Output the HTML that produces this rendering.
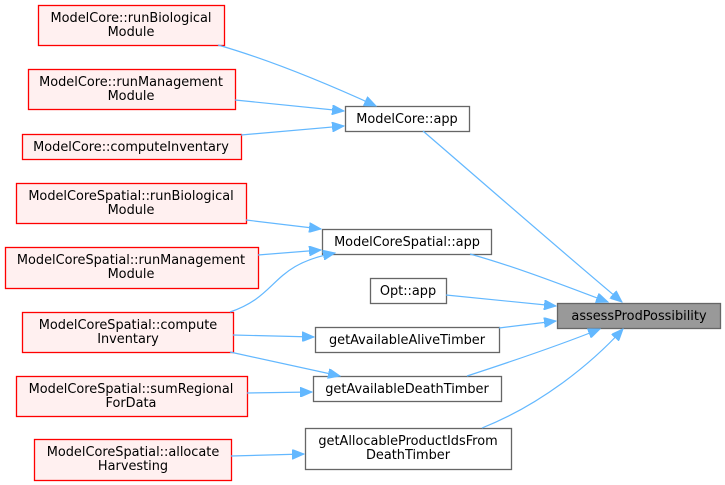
<!DOCTYPE html>
<html><head><meta charset="utf-8"><style>
html,body{margin:0;padding:0;background:#fff;}
svg{display:block}
text{font-family:"DejaVu Sans","Liberation Sans",sans-serif;font-size:12.9px;fill:#000;}
.r{fill:#fff0f0;stroke:#ff0000;stroke-width:1.3}
.w{fill:#fff;stroke:#666;stroke-width:1.3}
.g{fill:#999;stroke:#666;stroke-width:1.3}
.e{fill:none;stroke:#63b8ff;stroke-width:1.2}
</style></head><body>
<svg width="725" height="485" viewBox="0 0 725 485" xmlns="http://www.w3.org/2000/svg">
<defs><marker id="a" markerWidth="13" markerHeight="10" refX="12" refY="5" orient="auto" markerUnits="userSpaceOnUse"><path d="M0,0 L12,5 L0,10 Z" fill="#63b8ff" stroke="#63b8ff"/></marker></defs>
<g text-anchor="middle">
<rect class="r" x="38.5" y="5.5" width="186" height="40"/><text x="131" y="22">ModelCore::runBiological</text><text x="131" y="36">Module</text>
<rect class="r" x="28.5" y="69.5" width="207" height="40"/><text x="131" y="86">ModelCore::runManagement</text><text x="131" y="100">Module</text>
<rect class="r" x="22.5" y="134.5" width="219" height="25"/><text x="131" y="151">ModelCore::computeInventary</text>
<rect class="w" x="345.5" y="106.5" width="124" height="25"/><text x="407" y="123">ModelCore::app</text>
<rect class="r" x="16.5" y="183.5" width="230" height="40"/><text x="131" y="200">ModelCoreSpatial::runBiological</text><text x="131" y="214">Module</text>
<rect class="w" x="322.5" y="229.5" width="169" height="25"/><text x="407" y="246">ModelCoreSpatial::app</text>
<rect class="r" x="5.5" y="247.5" width="253" height="41"/><text x="131" y="264">ModelCoreSpatial::runManagement</text><text x="131" y="278">Module</text>
<rect class="w" x="370.5" y="278.5" width="76" height="25"/><text x="408" y="295">Opt::app</text>
<rect class="g" x="557.5" y="303.5" width="163" height="25"/><text x="639" y="320">assessProdPossibility</text>
<rect class="r" x="22.5" y="312.5" width="211" height="40"/><text x="128" y="329">ModelCoreSpatial::compute</text><text x="128" y="343">Inventary</text>
<rect class="w" x="315.5" y="327.5" width="184" height="25"/><text x="407" y="344">getAvailableAliveTimber</text>
<rect class="r" x="16.5" y="376.5" width="231" height="40"/><text x="131" y="393">ModelCoreSpatial::sumRegional</text><text x="131" y="407">ForData</text>
<rect class="w" x="313.5" y="376.5" width="188" height="25"/><text x="407" y="393">getAvailableDeathTimber</text>
<rect class="w" x="305.5" y="428.5" width="206" height="41"/><text x="408" y="445">getAllocableProductIdsFrom</text><text x="408" y="459">DeathTimber</text>
<rect class="r" x="34.5" y="439.5" width="197" height="41"/><text x="133" y="456">ModelCoreSpatial::allocate</text><text x="133" y="470">Harvesting</text>
</g>
<g class="e">
<path d="M218,45 C270,60 330,85 376,106" marker-end="url(#a)"/>
<path d="M235,100 L344,111" marker-end="url(#a)"/>
<path d="M241,135 L344,126" marker-end="url(#a)"/>
<path d="M423,131 C480,180 560,250 622,302" marker-end="url(#a)"/>
<path d="M246,220 L321,229" marker-end="url(#a)"/>
<path d="M258,255 L321,250" marker-end="url(#a)"/>
<path d="M230,312 C280,295 270,265 335,253" marker-end="url(#a)"/>
<path d="M470,254 C520,268 570,288 608,302" marker-end="url(#a)"/>
<path d="M446,295 L556,306" marker-end="url(#a)"/>
<path d="M499,328 L556,321" marker-end="url(#a)"/>
<path d="M467,376 C510,362 560,345 600,329" marker-end="url(#a)"/>
<path d="M482,428 C540,405 590,365 623,329" marker-end="url(#a)"/>
<path d="M233,335 L314,337" marker-end="url(#a)"/>
<path d="M230,352 L340,376" marker-end="url(#a)"/>
<path d="M247,393 L312,392" marker-end="url(#a)"/>
<path d="M231,456 L304,454" marker-end="url(#a)"/>
</g>
</svg>
</body></html>
